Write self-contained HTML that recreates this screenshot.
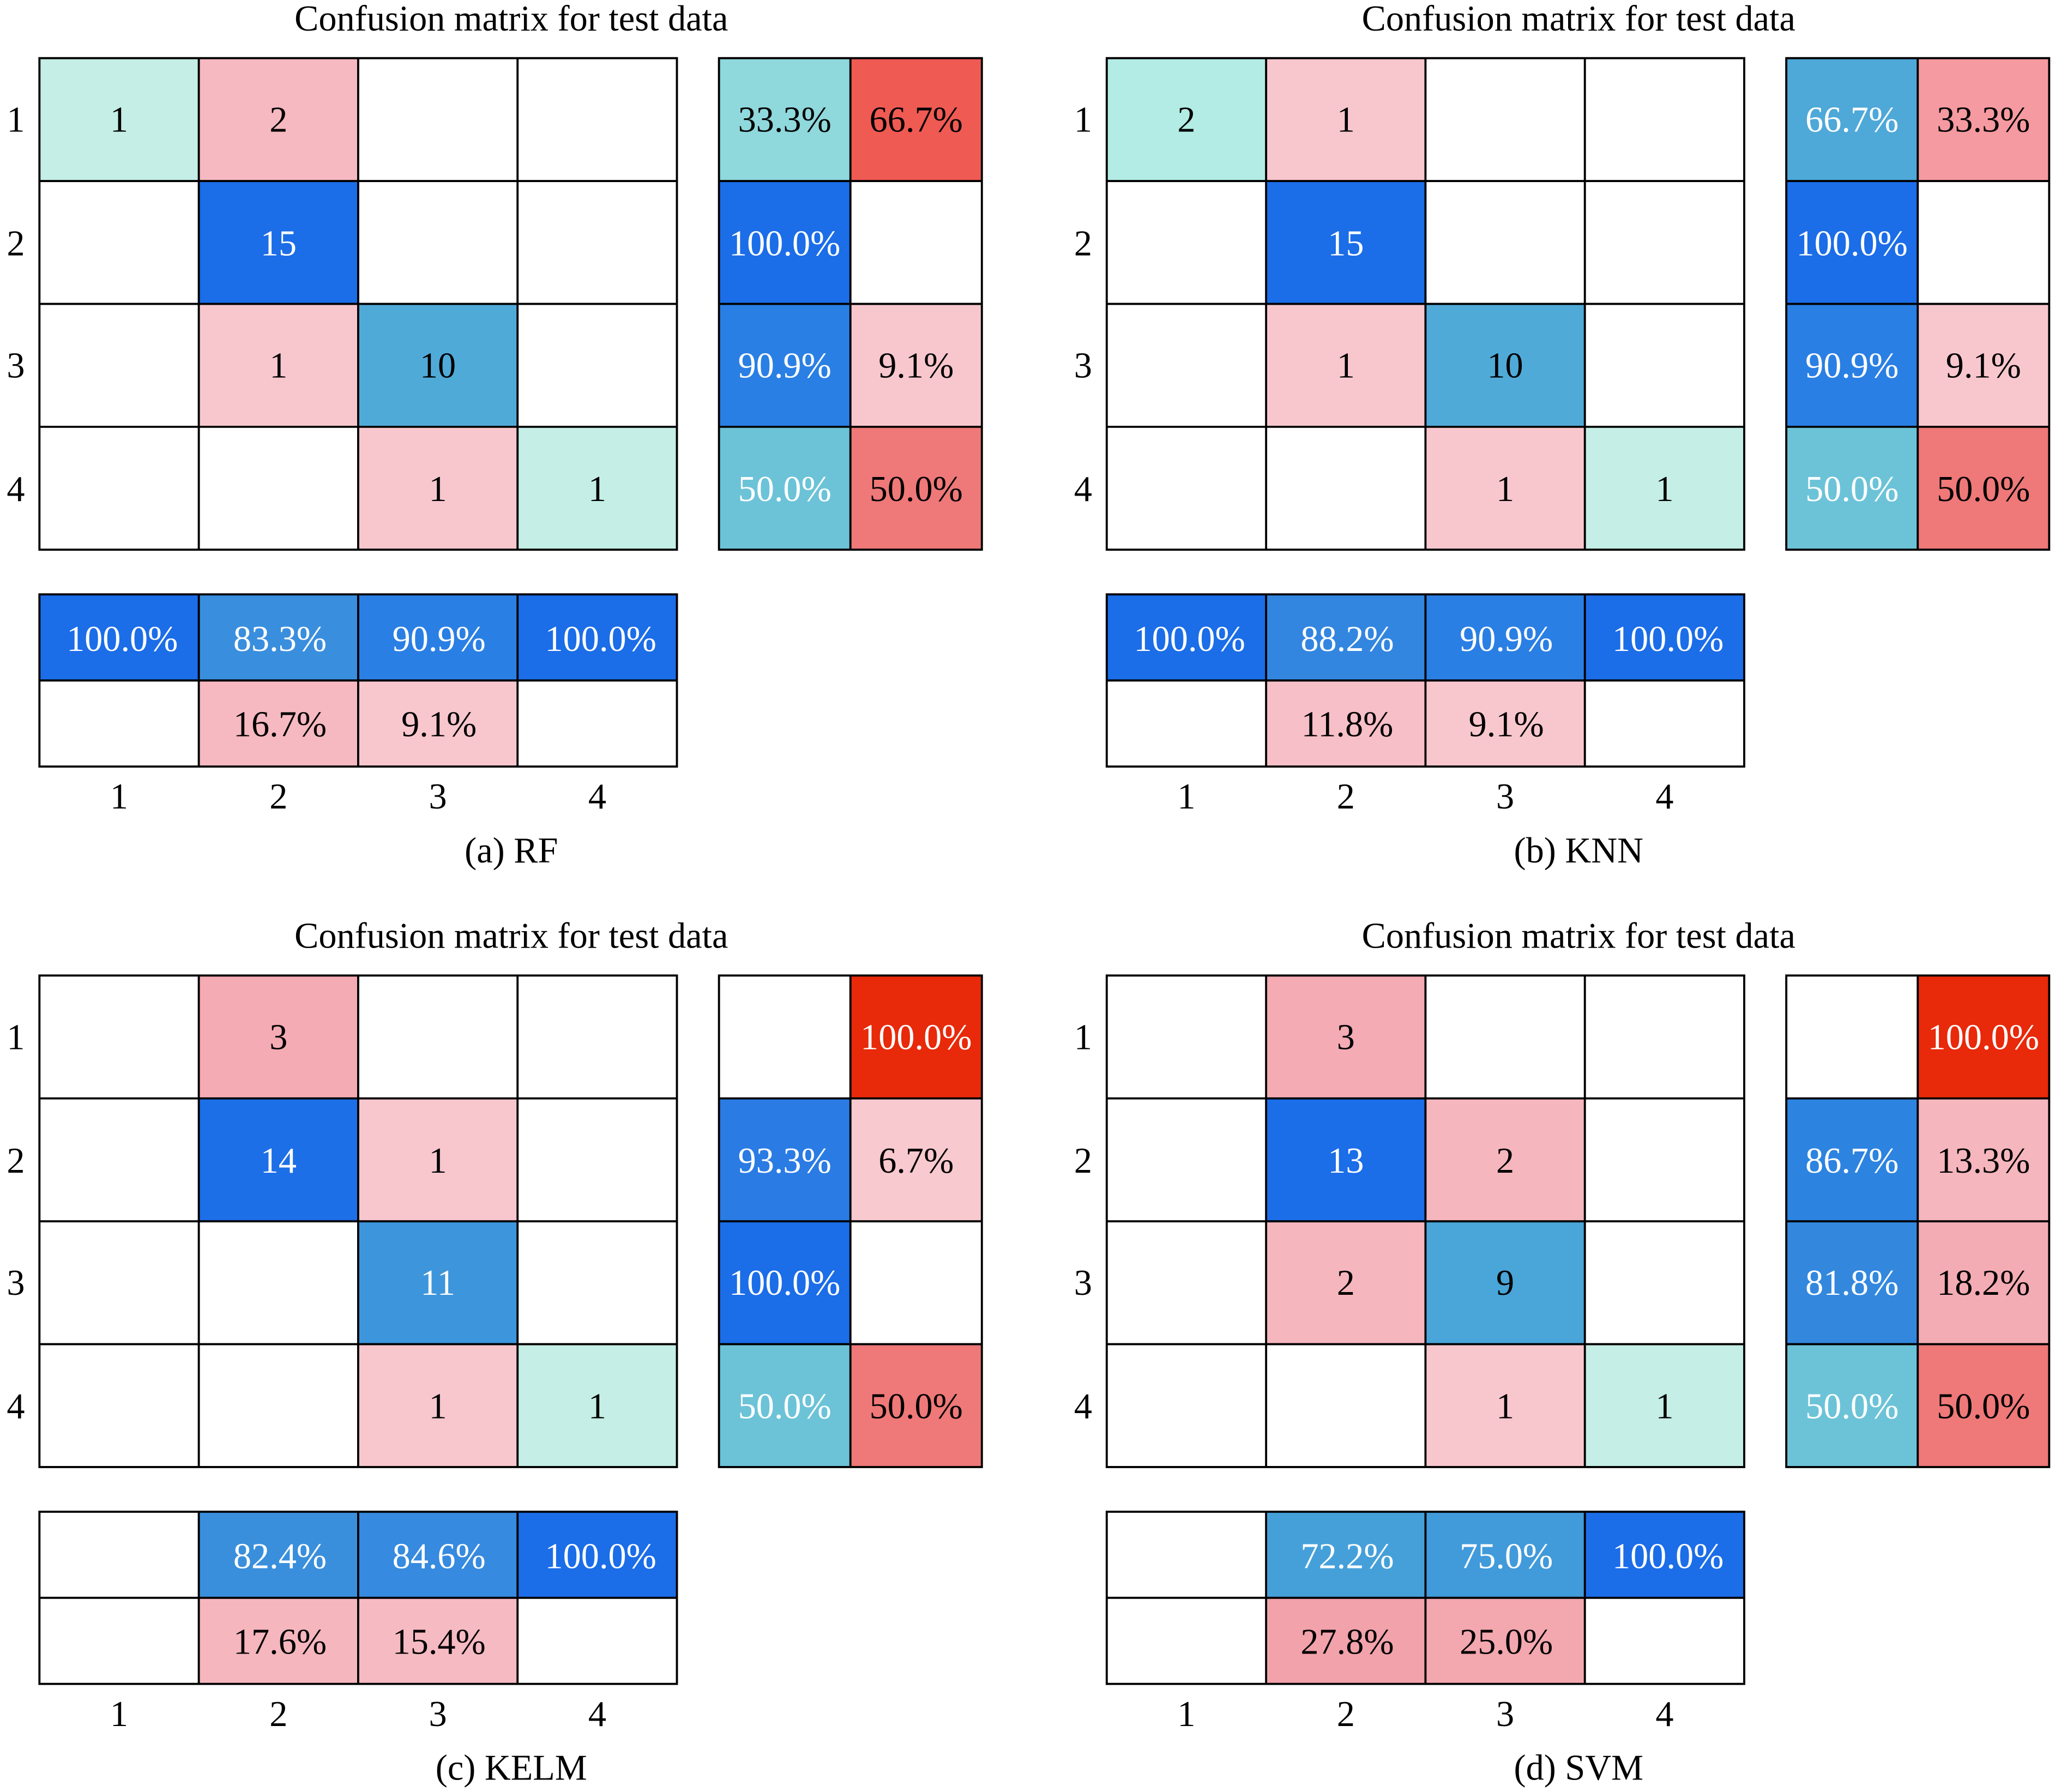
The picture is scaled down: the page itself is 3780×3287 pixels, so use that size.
<!DOCTYPE html>
<html><head><meta charset="utf-8"><style>
html,body{margin:0;padding:0;background:#fff}
svg{display:block}
text{font-family:"Liberation Serif",serif;font-size:27.5px;text-anchor:middle}
.w{fill:#fff}
</style></head><body>
<svg width="3780" height="3287" viewBox="0 0 1568 1363" xmlns="http://www.w3.org/2000/svg">
<defs>
<g id="grid" fill="none" stroke="#000" stroke-width="1.6">
<rect x="30" y="44" width="485" height="374"/>
<line x1="151.25" y1="44" x2="151.25" y2="418"/><line x1="272.5" y1="44" x2="272.5" y2="418"/><line x1="393.75" y1="44" x2="393.75" y2="418"/>
<line x1="30" y1="137.5" x2="515" y2="137.5"/><line x1="30" y1="231" x2="515" y2="231"/><line x1="30" y1="324.5" x2="515" y2="324.5"/>
<rect x="547" y="44" width="200" height="374"/>
<line x1="647" y1="44" x2="647" y2="418"/>
<line x1="547" y1="137.5" x2="747" y2="137.5"/><line x1="547" y1="231" x2="747" y2="231"/><line x1="547" y1="324.5" x2="747" y2="324.5"/>
<rect x="30" y="452" width="485" height="131"/>
<line x1="151.25" y1="452" x2="151.25" y2="583"/><line x1="272.5" y1="452" x2="272.5" y2="583"/><line x1="393.75" y1="452" x2="393.75" y2="583"/>
<line x1="30" y1="517.5" x2="515" y2="517.5"/>
</g>
<g id="labels">
<text x="389" y="23">Confusion matrix for test data</text>
<text x="12" y="100">1</text><text x="12" y="194">2</text><text x="12" y="287">3</text><text x="12" y="381">4</text>
<text x="90.6" y="615">1</text><text x="211.9" y="615">2</text><text x="333.1" y="615">3</text><text x="454.4" y="615">4</text>
</g>
</defs>

<!-- (a) RF -->
<g>
<rect x="30" y="44" width="121.25" height="93.5" fill="#c4eee6"/>
<rect x="151.25" y="44" width="121.25" height="93.5" fill="#f6b9c1"/>
<rect x="151.25" y="137.5" width="121.25" height="93.5" fill="#1b6de8"/>
<rect x="151.25" y="231" width="121.25" height="93.5" fill="#f8c7ce"/>
<rect x="272.5" y="231" width="121.25" height="93.5" fill="#50aad8"/>
<rect x="272.5" y="324.5" width="121.25" height="93.5" fill="#f8c7ce"/>
<rect x="393.75" y="324.5" width="121.25" height="93.5" fill="#c4eee6"/>
<rect x="547" y="44" width="100" height="93.5" fill="#8fd8dc"/>
<rect x="647" y="44" width="100" height="93.5" fill="#ef5a53"/>
<rect x="547" y="137.5" width="100" height="93.5" fill="#1b6de8"/>
<rect x="547" y="231" width="100" height="93.5" fill="#2a7fe4"/>
<rect x="647" y="231" width="100" height="93.5" fill="#f8c7ce"/>
<rect x="547" y="324.5" width="100" height="93.5" fill="#6cc3d8"/>
<rect x="647" y="324.5" width="100" height="93.5" fill="#ef7878"/>
<rect x="30" y="452" width="121.25" height="65.5" fill="#1b6de8"/>
<rect x="151.25" y="452" width="121.25" height="65.5" fill="#3a8ede"/>
<rect x="272.5" y="452" width="121.25" height="65.5" fill="#2a7fe4"/>
<rect x="393.75" y="452" width="121.25" height="65.5" fill="#1b6de8"/>
<rect x="151.25" y="517.5" width="121.25" height="65.5" fill="#f6b9c1"/>
<rect x="272.5" y="517.5" width="121.25" height="65.5" fill="#f8c7ce"/>
<use href="#grid"/><use href="#labels"/>
<text x="90.6" y="100">1</text><text x="211.9" y="100">2</text><text x="211.9" y="194" class="w">15</text>
<text x="211.9" y="287">1</text><text x="333.1" y="287">10</text><text x="333.1" y="381">1</text><text x="454.4" y="381">1</text>
<text x="597" y="100">33.3%</text><text x="697" y="100">66.7%</text><text x="597" y="194" class="w">100.0%</text>
<text x="597" y="287" class="w">90.9%</text><text x="697" y="287">9.1%</text><text x="597" y="381" class="w">50.0%</text><text x="697" y="381">50.0%</text>
<text x="93" y="495" class="w">100.0%</text><text x="213" y="495" class="w">83.3%</text><text x="334" y="495" class="w">90.9%</text><text x="457" y="495" class="w">100.0%</text>
<text x="213" y="560">16.7%</text><text x="334" y="560">9.1%</text>
<text x="389" y="656">(a) RF</text>
</g>

<!-- (b) KNN -->
<g transform="translate(812,0)">
<rect x="30" y="44" width="121.25" height="93.5" fill="#b3ece4"/>
<rect x="151.25" y="44" width="121.25" height="93.5" fill="#f8c7ce"/>
<rect x="151.25" y="137.5" width="121.25" height="93.5" fill="#1b6de8"/>
<rect x="151.25" y="231" width="121.25" height="93.5" fill="#f8c7ce"/>
<rect x="272.5" y="231" width="121.25" height="93.5" fill="#50aad8"/>
<rect x="272.5" y="324.5" width="121.25" height="93.5" fill="#f8c7ce"/>
<rect x="393.75" y="324.5" width="121.25" height="93.5" fill="#c4eee6"/>
<rect x="547" y="44" width="100" height="93.5" fill="#4ea8d8"/>
<rect x="647" y="44" width="100" height="93.5" fill="#f59aa0"/>
<rect x="547" y="137.5" width="100" height="93.5" fill="#1b6de8"/>
<rect x="547" y="231" width="100" height="93.5" fill="#2a7fe4"/>
<rect x="647" y="231" width="100" height="93.5" fill="#f8c7ce"/>
<rect x="547" y="324.5" width="100" height="93.5" fill="#6cc3d8"/>
<rect x="647" y="324.5" width="100" height="93.5" fill="#ef7878"/>
<rect x="30" y="452" width="121.25" height="65.5" fill="#1b6de8"/>
<rect x="151.25" y="452" width="121.25" height="65.5" fill="#3386e0"/>
<rect x="272.5" y="452" width="121.25" height="65.5" fill="#2a7fe4"/>
<rect x="393.75" y="452" width="121.25" height="65.5" fill="#1b6de8"/>
<rect x="151.25" y="517.5" width="121.25" height="65.5" fill="#f7bfc7"/>
<rect x="272.5" y="517.5" width="121.25" height="65.5" fill="#f8c7ce"/>
<use href="#grid"/><use href="#labels"/>
<text x="90.6" y="100">2</text><text x="211.9" y="100">1</text><text x="211.9" y="194" class="w">15</text>
<text x="211.9" y="287">1</text><text x="333.1" y="287">10</text><text x="333.1" y="381">1</text><text x="454.4" y="381">1</text>
<text x="597" y="100" class="w">66.7%</text><text x="697" y="100">33.3%</text><text x="597" y="194" class="w">100.0%</text>
<text x="597" y="287" class="w">90.9%</text><text x="697" y="287">9.1%</text><text x="597" y="381" class="w">50.0%</text><text x="697" y="381">50.0%</text>
<text x="93" y="495" class="w">100.0%</text><text x="213" y="495" class="w">88.2%</text><text x="334" y="495" class="w">90.9%</text><text x="457" y="495" class="w">100.0%</text>
<text x="213" y="560">11.8%</text><text x="334" y="560">9.1%</text>
<text x="389" y="656">(b) KNN</text>
</g>

<!-- (c) KELM -->
<g transform="translate(0,698)">
<rect x="151.25" y="44" width="121.25" height="93.5" fill="#f4abb4"/>
<rect x="151.25" y="137.5" width="121.25" height="93.5" fill="#1d6fe8"/>
<rect x="272.5" y="137.5" width="121.25" height="93.5" fill="#f8c7ce"/>
<rect x="272.5" y="231" width="121.25" height="93.5" fill="#3d96dc"/>
<rect x="272.5" y="324.5" width="121.25" height="93.5" fill="#f8c7ce"/>
<rect x="393.75" y="324.5" width="121.25" height="93.5" fill="#c4eee6"/>
<rect x="647" y="44" width="100" height="93.5" fill="#e8290a"/>
<rect x="547" y="137.5" width="100" height="93.5" fill="#2a7be4"/>
<rect x="647" y="137.5" width="100" height="93.5" fill="#f9c9d0"/>
<rect x="547" y="231" width="100" height="93.5" fill="#1b6de8"/>
<rect x="547" y="324.5" width="100" height="93.5" fill="#6cc3d8"/>
<rect x="647" y="324.5" width="100" height="93.5" fill="#ef7878"/>
<rect x="151.25" y="452" width="121.25" height="65.5" fill="#3a8fdc"/>
<rect x="272.5" y="452" width="121.25" height="65.5" fill="#368adf"/>
<rect x="393.75" y="452" width="121.25" height="65.5" fill="#1b6de8"/>
<rect x="151.25" y="517.5" width="121.25" height="65.5" fill="#f5b6be"/>
<rect x="272.5" y="517.5" width="121.25" height="65.5" fill="#f6bac2"/>
<use href="#grid"/><use href="#labels"/>
<text x="211.9" y="100">3</text><text x="211.9" y="194" class="w">14</text><text x="333.1" y="194">1</text>
<text x="333.1" y="287" class="w">11</text><text x="333.1" y="381">1</text><text x="454.4" y="381">1</text>
<text x="697" y="100" class="w">100.0%</text><text x="597" y="194" class="w">93.3%</text><text x="697" y="194">6.7%</text>
<text x="597" y="287" class="w">100.0%</text><text x="597" y="381" class="w">50.0%</text><text x="697" y="381">50.0%</text>
<text x="213" y="495" class="w">82.4%</text><text x="334" y="495" class="w">84.6%</text><text x="457" y="495" class="w">100.0%</text>
<text x="213" y="560">17.6%</text><text x="334" y="560">15.4%</text>
<text x="389" y="656">(c) KELM</text>
</g>

<!-- (d) SVM -->
<g transform="translate(812,698)">
<rect x="151.25" y="44" width="121.25" height="93.5" fill="#f4abb4"/>
<rect x="151.25" y="137.5" width="121.25" height="93.5" fill="#1b6de8"/>
<rect x="272.5" y="137.5" width="121.25" height="93.5" fill="#f6b6be"/>
<rect x="151.25" y="231" width="121.25" height="93.5" fill="#f6b6be"/>
<rect x="272.5" y="231" width="121.25" height="93.5" fill="#4aa5d8"/>
<rect x="272.5" y="324.5" width="121.25" height="93.5" fill="#f8c7ce"/>
<rect x="393.75" y="324.5" width="121.25" height="93.5" fill="#c4eee6"/>
<rect x="647" y="44" width="100" height="93.5" fill="#e8290a"/>
<rect x="547" y="137.5" width="100" height="93.5" fill="#2d83e0"/>
<rect x="647" y="137.5" width="100" height="93.5" fill="#f6b6be"/>
<rect x="547" y="231" width="100" height="93.5" fill="#3388de"/>
<rect x="647" y="231" width="100" height="93.5" fill="#f4acb4"/>
<rect x="547" y="324.5" width="100" height="93.5" fill="#6cc3d8"/>
<rect x="647" y="324.5" width="100" height="93.5" fill="#ef7878"/>
<rect x="151.25" y="452" width="121.25" height="65.5" fill="#45a0da"/>
<rect x="272.5" y="452" width="121.25" height="65.5" fill="#419ada"/>
<rect x="393.75" y="452" width="121.25" height="65.5" fill="#1b6de8"/>
<rect x="151.25" y="517.5" width="121.25" height="65.5" fill="#f2a2ab"/>
<rect x="272.5" y="517.5" width="121.25" height="65.5" fill="#f3a7af"/>
<use href="#grid"/><use href="#labels"/>
<text x="211.9" y="100">3</text><text x="211.9" y="194" class="w">13</text><text x="333.1" y="194">2</text>
<text x="211.9" y="287">2</text><text x="333.1" y="287">9</text><text x="333.1" y="381">1</text><text x="454.4" y="381">1</text>
<text x="697" y="100" class="w">100.0%</text><text x="597" y="194" class="w">86.7%</text><text x="697" y="194">13.3%</text>
<text x="597" y="287" class="w">81.8%</text><text x="697" y="287">18.2%</text><text x="597" y="381" class="w">50.0%</text><text x="697" y="381">50.0%</text>
<text x="213" y="495" class="w">72.2%</text><text x="334" y="495" class="w">75.0%</text><text x="457" y="495" class="w">100.0%</text>
<text x="213" y="560">27.8%</text><text x="334" y="560">25.0%</text>
<text x="389" y="656">(d) SVM</text>
</g>
</svg>
</body></html>
